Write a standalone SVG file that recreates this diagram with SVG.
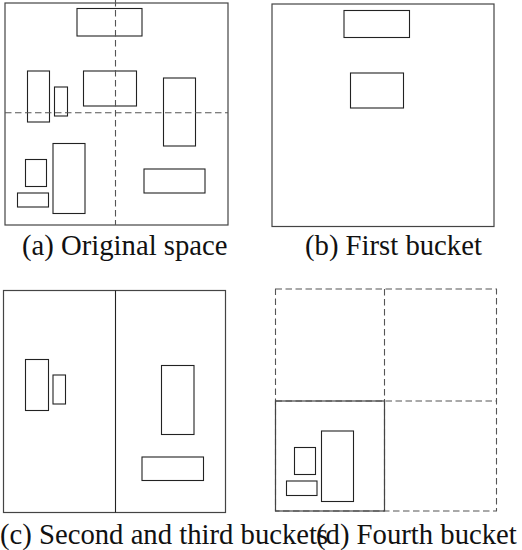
<svg xmlns="http://www.w3.org/2000/svg" width="522" height="550" viewBox="0 0 522 550">
<style>
.frame{fill:none;stroke:#444;stroke-width:1.2}
.box{fill:none;stroke:#222;stroke-width:1.1}
.dash{fill:none;stroke:#555;stroke-width:1.1;stroke-dasharray:6.5,3.5}
.solid{fill:none;stroke:#222;stroke-width:1.1}
text{font-family:'Liberation Serif','Times New Roman','DejaVu Serif',serif;font-size:28.7px;fill:#111}
</style>
<rect width="522" height="550" fill="#fff"/>
<g id="panel-a">
<rect class="frame" x="5" y="3" width="223" height="222"/>
<rect class="box" x="77" y="8.5" width="65" height="27.5"/>
<rect class="box" x="27.5" y="71" width="22" height="51"/>
<rect class="box" x="54.5" y="87" width="13" height="29"/>
<rect class="box" x="83.5" y="71" width="53" height="35"/>
<rect class="box" x="163.5" y="78" width="32" height="68"/>
<rect class="box" x="25.5" y="159.5" width="21" height="27"/>
<rect class="box" x="17.5" y="193" width="31" height="14"/>
<rect class="box" x="53" y="143.5" width="32" height="70"/>
<rect class="box" x="144" y="169" width="61" height="24"/>
<g id="connectors-a">
<line class="dash" x1="115.5" y1="0" x2="115.5" y2="225"/>
<line class="dash" x1="5" y1="112.7" x2="228" y2="112.7"/>
</g>
<text x="22" y="255">(a) Original space</text>
</g>
<g id="panel-b">
<rect class="frame" x="272" y="4" width="222" height="222.5"/>
<rect class="box" x="344" y="10.5" width="65.5" height="27"/>
<rect class="box" x="350.5" y="73" width="53" height="35"/>
<text x="305" y="255">(b) First bucket</text>
</g>
<g id="panel-c">
<rect class="frame" x="3.5" y="290.5" width="222" height="222"/>
<line class="solid" x1="115.5" y1="290.5" x2="115.5" y2="512.5"/>
<rect class="box" x="25.5" y="359.5" width="23" height="51"/>
<rect class="box" x="53" y="375" width="12.5" height="29"/>
<rect class="box" x="161.5" y="365.5" width="32.5" height="69"/>
<rect class="box" x="142" y="457" width="61.5" height="23.5"/>
<text x="0" y="544">(c) Second and third buckets</text>
</g>
<g id="panel-d">
<rect class="dash" x="275.5" y="289" width="221" height="222"/>
<line class="dash" x1="384.5" y1="289" x2="384.5" y2="511"/>
<line class="dash" x1="275.5" y1="401" x2="496.5" y2="401"/>
<rect class="frame" x="275.5" y="401" width="109" height="110"/>
<rect class="box" x="294.5" y="447.5" width="21" height="27"/>
<rect class="box" x="286.5" y="481" width="30.5" height="14.5"/>
<rect class="box" x="321.5" y="431" width="32" height="70.5"/>
<text x="316" y="544">(d) Fourth bucket</text>
</g>
</svg>
